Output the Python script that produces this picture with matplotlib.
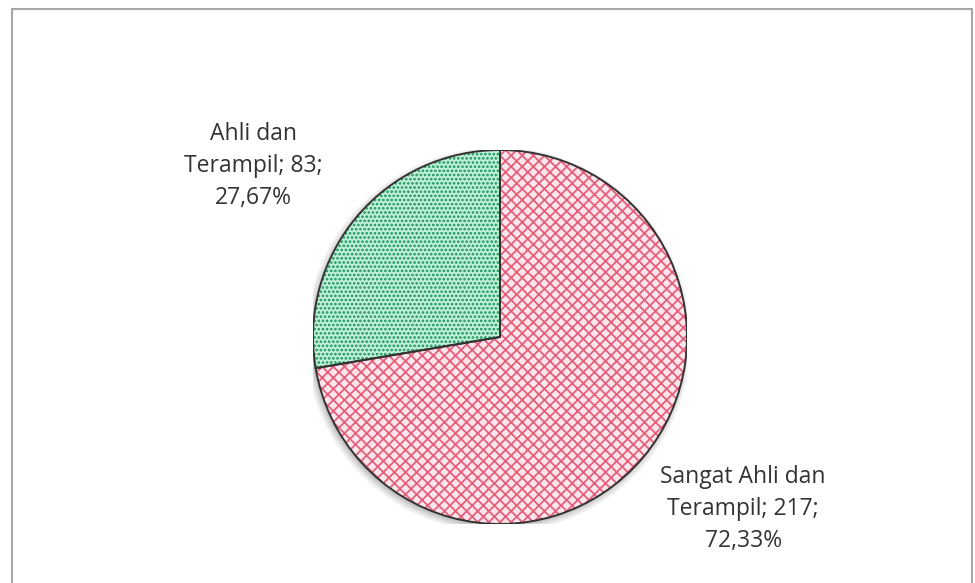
import matplotlib.pyplot as plt
from matplotlib.patches import Rectangle, Circle, Wedge

# skill level of respondents
labels = ["Sangat Ahli dan\nTerampil", "Ahli dan\nTerampil"]
counts = [217, 83]

face = ["#fde6eb", "#c2f0d8"]
hatch_col = ["#e5607c", "#16945a"]
hatches = ["xxx", "...."]

plt.rcParams["hatch.linewidth"] = 1.3

W, H = 975, 583
fig = plt.figure(figsize=(W / 100, H / 100), dpi=100)

# outer chart frame
fig.patches.append(Rectangle((12 / W, -0.02), 960 / W, (H - 9) / H + 0.02,
                             transform=fig.transFigure, fill=False,
                             edgecolor="#a6a6a6", linewidth=1.5))

cx, cy, r = 500, 337, 187
ax = fig.add_axes([(cx - r) / W, (H - cy - r) / H, 2 * r / W, 2 * r / H])

# soft shadow under the pie
for i, a in enumerate([0.05, 0.05, 0.06, 0.08]):
    ax.add_patch(Circle((-0.01, -0.015), 1.03 - i * 0.01, color="black",
                        alpha=a, zorder=0, linewidth=0))

wedges, _ = ax.pie(counts, startangle=90, counterclock=False, radius=1,
                   colors=face, wedgeprops=dict(linewidth=0))
for w, h, c in zip(wedges, hatches, hatch_col):
    w.set_hatch(h)
    w.set_edgecolor(c)
    w.set_linewidth(0)
    w.set_zorder(2)

# slice outlines
for w in wedges:
    ax.add_patch(Wedge(w.center, w.r, w.theta1, w.theta2, fill=False,
                       edgecolor="#333333", linewidth=1.4, zorder=3))

ax.set_xlim(-1, 1)
ax.set_ylim(-1, 1)
ax.set_aspect("equal")
ax.axis("off")

total = sum(counts)
pos = [(1.30, -0.92), (-1.32, 0.914)]
for lab, v, (x, y) in zip(labels, counts, pos):
    pct = f"{v / total * 100:.2f}".replace(".", ",")
    ax.text(x, y, f"{lab}; {v};\n{pct}%", ha="center", va="center",
            fontsize=16.5, family="Open Sans", color="#333333",
            linespacing=1.45, clip_on=False)

fig.savefig("out.png", dpi=100, facecolor="white")
